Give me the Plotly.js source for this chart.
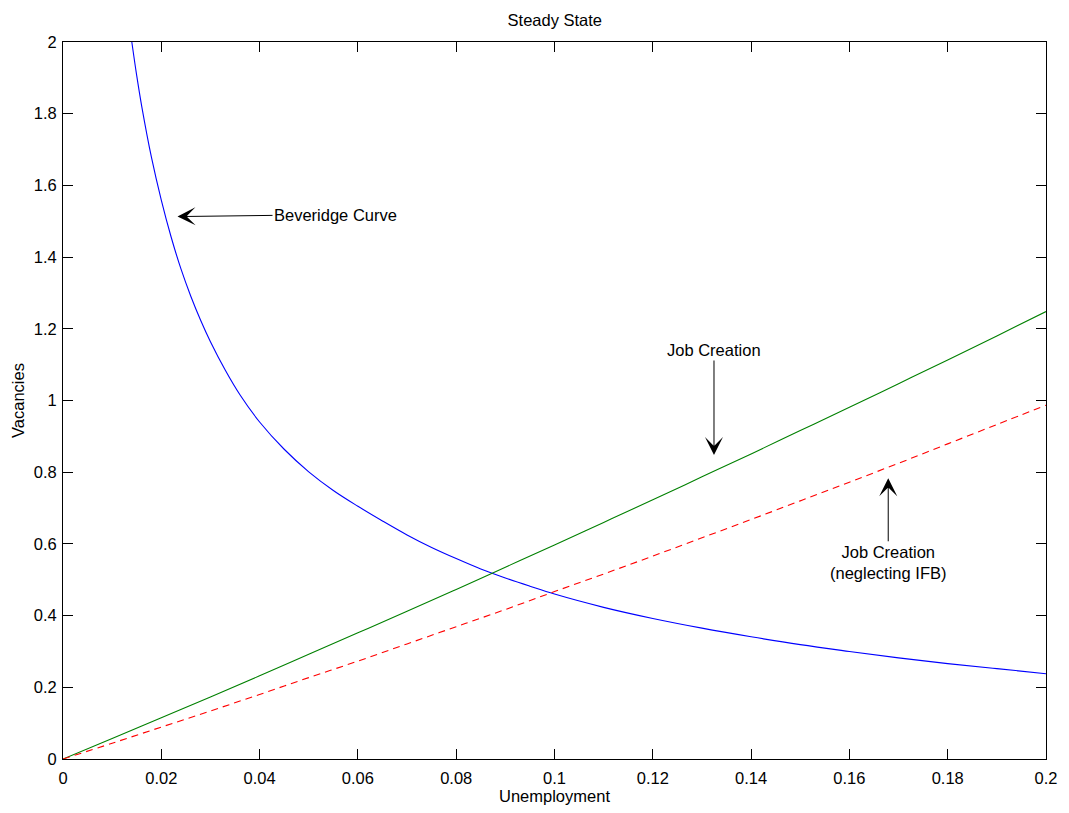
<!DOCTYPE html>
<html>
<head>
<meta charset="utf-8">
<script src="https://cdn.plot.ly/plotly-3.0.1.min.js"></script>
<style>html,body{margin:0;padding:0;background:#fff;}#chart{width:1069px;height:813px;}</style>
</head>
<body>
<div id="chart"></div>
<script>
// Beveridge curve
var uBev = [0.014, 0.015, 0.016, 0.018, 0.020, 0.022, 0.024, 0.026, 0.028, 0.030, 0.033, 0.036, 0.040, 0.045, 0.050, 0.055, 0.060, 0.065, 0.070, 0.075, 0.080, 0.085, 0.090, 0.095, 0.100, 0.110, 0.120, 0.130, 0.140, 0.150, 0.160, 0.170, 0.180, 0.190, 0.200];
var vBev = [2.000, 1.906, 1.822, 1.678, 1.559, 1.456, 1.367, 1.291, 1.224, 1.164, 1.085, 1.016, 0.940, 0.864, 0.801, 0.749, 0.705, 0.664, 0.625, 0.590, 0.559, 0.530, 0.505, 0.482, 0.460, 0.423, 0.392, 0.365, 0.341, 0.319, 0.300, 0.282, 0.266, 0.252, 0.238];

// Job creation curves
var uJC = [0, 0.01, 0.02, 0.03, 0.04, 0.05, 0.06, 0.07, 0.08, 0.09, 0.10, 0.11, 0.12, 0.13, 0.14, 0.15, 0.16, 0.17, 0.18, 0.19, 0.20];
var vJC = [0, 0.057, 0.115, 0.173, 0.232, 0.292, 0.352, 0.412, 0.473, 0.535, 0.597, 0.660, 0.723, 0.787, 0.851, 0.916, 0.981, 1.047, 1.113, 1.180, 1.248];
var vJCnoIFB = [0, 0.044, 0.089, 0.134, 0.180, 0.227, 0.273, 0.321, 0.369, 0.417, 0.467, 0.516, 0.566, 0.617, 0.668, 0.720, 0.772, 0.825, 0.879, 0.933, 0.987];

var xTicks = [0, 0.02, 0.04, 0.06, 0.08, 0.1, 0.12, 0.14, 0.16, 0.18, 0.2];
var xTickText = ['0', '0.02', '0.04', '0.06', '0.08', '0.1', '0.12', '0.14', '0.16', '0.18', '0.2'];
var yTicks = [0, 0.2, 0.4, 0.6, 0.8, 1, 1.2, 1.4, 1.6, 1.8, 2];
var yTickText = ['0', '0.2', '0.4', '0.6', '0.8', '1', '1.2', '1.4', '1.6', '1.8', '2'];

var FONT = 'Liberation Sans, Arial, Helvetica, sans-serif';
var FS = 16.5;

var traces = [
  {x: uBev, y: vBev, mode: 'lines', line: {color: '#0000ff', width: 1.1, shape: 'spline', smoothing: 1}, hoverinfo: 'skip'},
  {x: uJC, y: vJC, mode: 'lines', line: {color: '#008000', width: 1.1, shape: 'spline'}, hoverinfo: 'skip'},
  {x: uJC, y: vJCnoIFB, mode: 'lines', line: {color: '#ff0000', width: 1.1, dash: '7px,5px', shape: 'spline'}, hoverinfo: 'skip'}
];

var axisCommon = {
  showline: true, linecolor: '#000', linewidth: 1, mirror: 'ticks',
  ticks: 'inside', ticklen: 10, tickwidth: 1, tickcolor: '#000',
  showgrid: false, zeroline: false,
  tickfont: {family: FONT, size: FS, color: '#000'}
};

var layout = {
  width: 1069, height: 813,
  margin: {l: 63, r: 23, t: 42, b: 54},
  paper_bgcolor: '#fff', plot_bgcolor: '#fff',
  showlegend: false,
  font: {family: FONT, size: FS, color: '#000'},
  title: {text: 'Steady State', font: {family: FONT, size: FS, color: '#000'}, x: 0.519, xanchor: 'center', y: 0.975, yanchor: 'middle', yref: 'container'},
  xaxis: Object.assign({}, axisCommon, {
    range: [0, 0.2], tickvals: xTicks, ticktext: xTickText, ticklabelstandoff: 4,
    title: {text: 'Unemployment', font: {family: FONT, size: FS, color: '#000'}, standoff: 4}
  }),
  yaxis: Object.assign({}, axisCommon, {
    range: [0, 2], tickvals: yTicks, ticktext: yTickText, ticklabelstandoff: 2,
    title: {text: 'Vacancies', font: {family: FONT, size: FS, color: '#000'}, standoff: 4}
  }),
  annotations: [
    {x: 0.0233, y: 1.513, xref: 'x', yref: 'y', text: 'Beveridge Curve', showarrow: true,
     ax: 158, ay: -2, arrowhead: 3, arrowsize: 3, arrowwidth: 1, arrowcolor: '#000',
     font: {family: FONT, size: FS, color: '#000'}},
    {x: 0.13245, y: 0.848, xref: 'x', yref: 'y', text: 'Job Creation', showarrow: true,
     ax: 0, ay: -105, arrowhead: 3, arrowsize: 3, arrowwidth: 1, arrowcolor: '#000',
     font: {family: FONT, size: FS, color: '#000'}},
    {x: 0.1679, y: 0.783, xref: 'x', yref: 'y', text: 'Job Creation<br>(neglecting IFB)', showarrow: true,
     ax: 0, ay: 84, arrowhead: 3, arrowsize: 3, arrowwidth: 1, arrowcolor: '#000',
     font: {family: FONT, size: FS, color: '#000'}}
  ]
};

Plotly.newPlot('chart', traces, layout, {staticPlot: true, displayModeBar: false});
</script>
</body>
</html>
